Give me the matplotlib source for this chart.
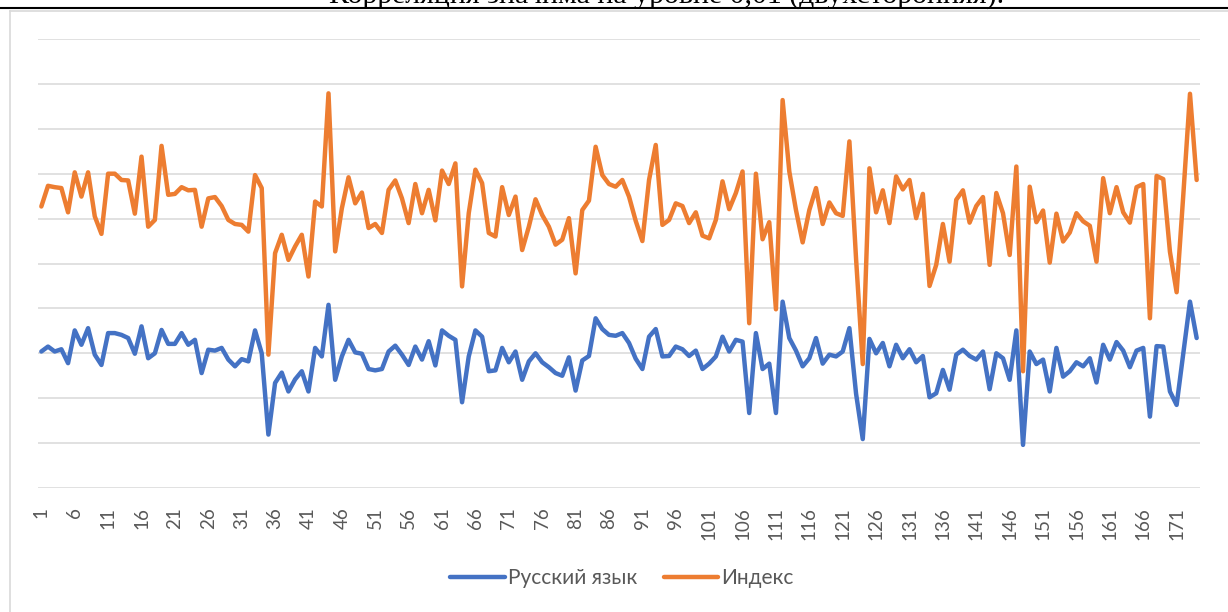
import numpy as np
import matplotlib
matplotlib.use("Agg")
import matplotlib.pyplot as plt
from matplotlib.lines import Line2D

title_text = "Корреляция значима на уровне 0,01 (двухсторонняя)."
series_names = ["Русский язык", "Индекс"]

russian = [
    3.04, 3.15, 3.04, 3.09, 2.78, 3.51, 3.19, 3.56, 2.97, 2.74,
    3.45, 3.45, 3.41, 3.34, 2.99, 3.60, 2.89, 3.00, 3.52, 3.21,
    3.21, 3.45, 3.19, 3.30, 2.56, 3.08, 3.06, 3.12, 2.86, 2.71,
    2.87, 2.82, 3.51, 3.00, 1.19, 2.34, 2.57, 2.15, 2.42, 2.60,
    2.15, 3.12, 2.93, 4.08, 2.41, 2.93, 3.30, 3.02, 2.99, 2.65,
    2.62, 2.65, 3.04, 3.17, 2.97, 2.74, 3.15, 2.86, 3.27, 2.73,
    3.51, 3.39, 3.30, 1.91, 2.93, 3.51, 3.37, 2.60, 2.62, 3.12,
    2.80, 3.04, 2.41, 2.82, 3.00, 2.80, 2.69, 2.56, 2.50, 2.91,
    2.17, 2.84, 2.94, 3.78, 3.54, 3.41, 3.39, 3.45, 3.23, 2.88,
    2.65, 3.37, 3.54, 2.93, 2.94, 3.15, 3.09, 2.94, 3.06, 2.65,
    2.77, 2.93, 3.37, 3.04, 3.30, 3.26, 1.67, 3.45, 2.65, 2.77,
    1.67, 4.15, 3.34, 3.06, 2.71, 2.89, 3.34, 2.77, 2.97, 2.93,
    3.04, 3.56, 2.10, 1.09, 3.32, 3.00, 3.23, 2.71, 3.19, 2.89,
    3.09, 2.80, 2.94, 2.02, 2.11, 2.63, 2.19, 2.97, 3.08, 2.94,
    2.86, 3.04, 2.20, 3.00, 2.89, 2.41, 3.51, 0.96, 3.04, 2.76,
    2.86, 2.15, 3.12, 2.48, 2.60, 2.80, 2.71, 2.89, 2.35, 3.19,
    2.86, 3.25, 3.06, 2.69, 3.06, 3.12, 1.59, 3.16, 3.15, 2.15,
    1.85, 3.00, 4.15, 3.34,
]

index_vals = [
    6.27, 6.73, 6.70, 6.68, 6.14, 7.03, 6.49, 7.03, 6.05, 5.66,
    7.00, 7.00, 6.86, 6.85, 6.11, 7.38, 5.82, 5.97, 7.62, 6.53,
    6.55, 6.70, 6.63, 6.64, 5.82, 6.45, 6.48, 6.28, 5.97, 5.88,
    5.86, 5.71, 6.97, 6.68, 2.97, 5.23, 5.64, 5.08, 5.38, 5.64,
    4.71, 6.38, 6.27, 8.79, 5.27, 6.23, 6.92, 6.34, 6.58, 5.79,
    5.88, 5.68, 6.64, 6.85, 6.45, 5.90, 6.77, 6.12, 6.64, 5.96,
    7.07, 6.77, 7.23, 4.49, 6.12, 7.09, 6.79, 5.68, 5.60, 6.70,
    6.08, 6.49, 5.30, 5.82, 6.43, 6.08, 5.82, 5.42, 5.53, 6.01,
    4.78, 6.19, 6.40, 7.60, 6.97, 6.77, 6.71, 6.86, 6.49, 5.95,
    5.50, 6.86, 7.64, 5.86, 5.97, 6.34, 6.28, 5.90, 6.14, 5.62,
    5.56, 5.97, 6.83, 6.21, 6.57, 7.05, 3.67, 7.00, 5.54, 5.92,
    3.98, 8.64, 7.05, 6.19, 5.47, 6.19, 6.68, 5.88, 6.36, 6.12,
    6.06, 7.72, 5.10, 2.76, 7.12, 6.14, 6.63, 5.90, 6.94, 6.65,
    6.86, 6.01, 6.55, 4.50, 4.97, 5.88, 5.04, 6.42, 6.63, 5.91,
    6.28, 6.48, 4.97, 6.57, 6.12, 5.19, 7.16, 2.60, 6.71, 5.92,
    6.18, 5.02, 6.11, 5.49, 5.69, 6.12, 5.94, 5.84, 5.04, 6.90,
    6.12, 6.70, 6.14, 5.91, 6.70, 6.77, 3.78, 6.95, 6.88, 5.26,
    4.36, 6.53, 8.78, 6.86,
]

categories = list(range(1, len(russian) + 1))
tick_labels = [str(c) for c in categories[::5]]

W, H = 1228, 612
fig = plt.figure(figsize=(W / 100, H / 100), dpi=100)
fig.patch.set_facecolor("white")

ax = fig.add_axes([38 / W, (H - 488) / H, (1200 - 38) / W, (488 - 39) / H])
ax.set_xlim(0.5, len(categories) + 0.5)
ax.set_ylim(0, 10)
ax.set_yticks(np.arange(0, 11, 1))
ax.yaxis.grid(True, color="#D9D9D9", linewidth=1.1)
ax.set_axisbelow(True)
for s in ax.spines.values():
    s.set_visible(False)
ax.tick_params(axis="y", left=False, labelleft=False)
ax.set_xticks(categories[::5])
ax.set_xticklabels(tick_labels, rotation=90, fontsize=13.5, color="#595959",
                   family="Lato")
ax.tick_params(axis="x", length=0, pad=14)

l1, = ax.plot(categories, russian, color="#4472C4", linewidth=3.2,
              solid_joinstyle="round", solid_capstyle="round")
l2, = ax.plot(categories, index_vals, color="#ED7D31", linewidth=3.2,
              solid_joinstyle="round", solid_capstyle="round")

leg = fig.legend([l1, l2], series_names, loc="center", bbox_to_anchor=(622 / W, 1 - 578 / H),
                 ncol=2, frameon=False, handlelength=2.6, columnspacing=1.3,
                 handletextpad=0.15, prop={"family": "Lato", "size": 15})
for t in leg.get_texts():
    t.set_color("#595959")

# outer chart border and cut-off caption from the page above
fig.add_artist(Line2D([10 / W, 10 / W], [0, 1 - 11 / H], color="#D9D9D9", linewidth=1.2))
fig.add_artist(Line2D([10 / W, 1], [1 - 11 / H, 1 - 11 / H], color="#D9D9D9", linewidth=1.2))
fig.add_artist(Line2D([0, 1], [1 - 8 / H, 1 - 8 / H], color="black", linewidth=1.5))
fig.text(667 / W, 1 - 3 / H, title_text, ha="center", va="baseline",
         fontsize=21.5, family="Liberation Serif", color="black")

fig.savefig("out.png", dpi=100, facecolor="white")
